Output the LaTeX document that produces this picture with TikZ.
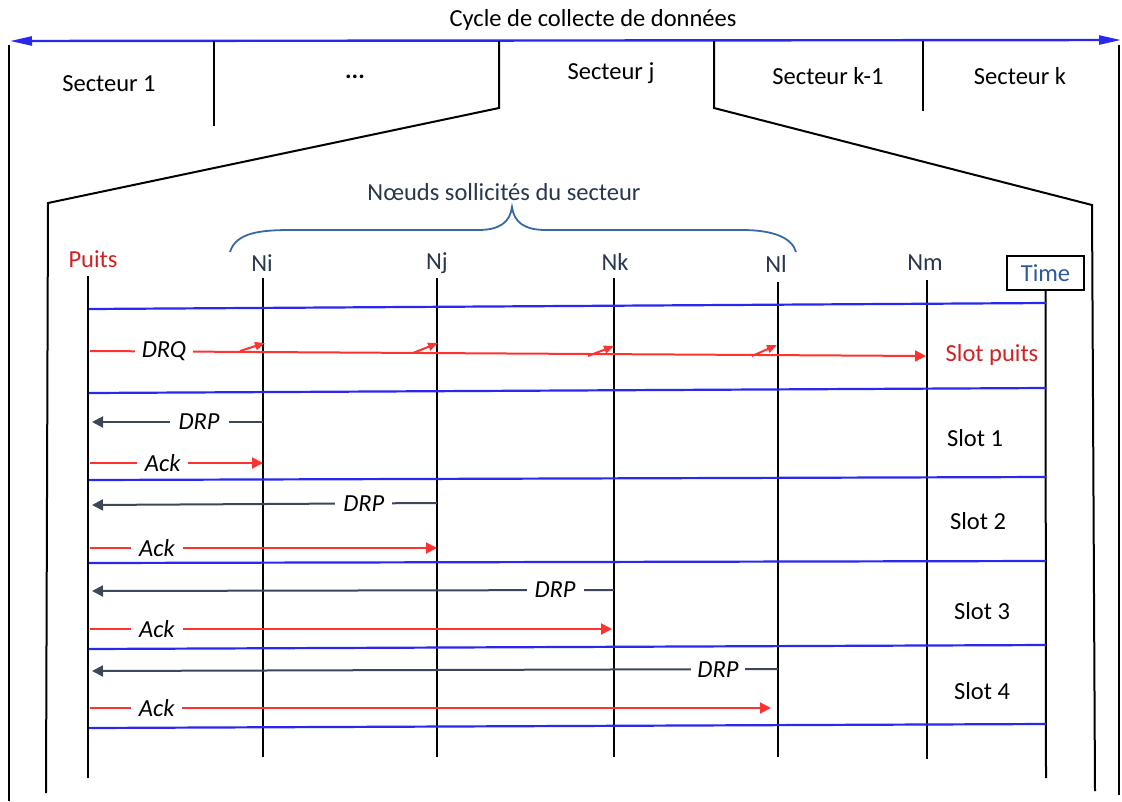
\documentclass[tikz,border=0pt]{standalone}
\usepackage{fontspec}
\setmainfont{Carlito}
\usetikzlibrary{arrows.meta}
\definecolor{lineblue}{RGB}{40,40,240}
\definecolor{msgred}{RGB}{255,50,50}
\definecolor{txtred}{RGB}{210,35,35}
\definecolor{slate}{RGB}{58,72,90}
\definecolor{navy}{RGB}{40,55,78}
\definecolor{braceblue}{RGB}{55,105,165}
\definecolor{timeblue}{RGB}{45,90,155}
\begin{document}
\begin{tikzpicture}[x=1pt,y=-1pt,
  every node/.style={font=\fontsize{24.5}{29}\selectfont, inner sep=0pt},
  frame/.style={black, line width=2pt},
  lifeline/.style={black, line width=2pt},
  slotline/.style={lineblue, line width=2.2pt},
  cycle/.style={lineblue, line width=2.4pt, {Triangle[length=22pt,width=9pt]}-{Triangle[length=22pt,width=9pt]}},
  reqmsg/.style={msgred, line width=2pt, -{Triangle[length=11pt,width=11pt]}},
  repmsg/.style={slate, line width=2pt, -{Triangle[length=11pt,width=11pt]}},
  smallarr/.style={msgred, line width=2pt, -{Triangle[length=10pt,width=8pt]}},
  msglabel/.style={fill=white, inner xsep=8pt, inner ysep=0pt, text=black, font=\fontsize{24.5}{29}\selectfont\itshape},
  nodelabel/.style={text=navy},
  slotlabel/.style={text=black}
]
\useasboundingbox (0,0) rectangle (1122,801);

% ---------- top cycle ----------
\node (title) at (593,20) {Cycle de collecte de données};
\coordinate (cycL) at (10,41);
\coordinate (cycR) at (1121,40);
\draw[cycle] (cycL) -- (cycR);

% outer frame
\coordinate (oL1) at (9,45);   \coordinate (oL2) at (9,801);
\coordinate (oR1) at (1119,45); \coordinate (oR2) at (1119,795);
\draw[frame] (oL1) -- (oL2);
\draw[frame] (oR1) -- (oR2);

% sector dividers
\coordinate (d1t) at (214,41); \coordinate (d1b) at (214,126);
\coordinate (d4t) at (923,41); \coordinate (d4b) at (923,111);
\draw[frame] (d1t) -- (d1b);
\draw[frame] (d4t) -- (d4b);

% zoom of sector j
\coordinate (zLt) at (499,41); \coordinate (zLm) at (499,108);
\coordinate (zLc) at (48,203); \coordinate (zLb) at (46,793);
\coordinate (zRt) at (714,41); \coordinate (zRm) at (714,108);
\coordinate (zRc) at (1092,205); \coordinate (zRb) at (1095,791);
\draw[frame] (zLt) -- (zLm) -- (zLc) -- (zLb);
\draw[frame] (zRt) -- (zRm) -- (zRc) -- (zRb);

% sector labels
\node (sec1) at (109,84) {Secteur 1};
\node (secd) at (355,77) {\textbf{...}};
\node (secj) at (611,73) {Secteur j};
\node (seck1) at (828,76) {Secteur k-1};
\node (seck) at (1020,76) {Secteur k};

% ---------- brace ----------
\node[text=navy] (noeuds) at (504,192) {Nœuds sollicités du secteur};
\coordinate (brL) at (230,252);
\coordinate (brP) at (512,207);
\coordinate (brR) at (796,252);
\draw[braceblue, line width=1.8pt]
  (brL) .. controls (236,232) and (262,230) .. (292,230) -- (478,230)
        .. controls (500,230) and (510,222) .. (brP)
        .. controls (514,222) and (524,230) .. (546,230) -- (742,230)
        .. controls (774,230) and (792,238) .. (brR);

% ---------- lifeline labels ----------
\node[text=txtred] (puits) at (93,259) {Puits};
\node[nodelabel] (ni) at (262,263) {Ni};
\node[nodelabel] (nj) at (437,263) {Nj};
\node[nodelabel] (nk) at (615,262) {Nk};
\node[nodelabel] (nl) at (776,264) {Nl};
\node[nodelabel] (nm) at (925,263) {Nm};
\node[draw=black, line width=1.6pt, minimum width=77pt, minimum height=34pt, text=timeblue] (time) at (1045.5,273) {Time};

% lifelines
\coordinate (Pt) at (88,276);  \coordinate (Pb) at (88,778);
\coordinate (It) at (263,278); \coordinate (Ib) at (263,757);
\coordinate (Jt) at (437,278); \coordinate (Jb) at (437,757);
\coordinate (Kt) at (614,278); \coordinate (Kb) at (614,757);
\coordinate (Lt) at (778,282); \coordinate (Lb) at (778,757);
\coordinate (Mt) at (927,280); \coordinate (Mb) at (927,759);
\coordinate (Tb) at (1046,778);
\draw[lifeline] (Pt) -- (Pb);
\draw[lifeline] (It) -- (Ib);
\draw[lifeline] (Jt) -- (Jb);
\draw[lifeline] (Kt) -- (Kb);
\draw[lifeline] (Lt) -- (Lb);
\draw[lifeline] (Mt) -- (Mb);
\draw[lifeline] (time.south) -- (Tb);

% slot boundaries
\coordinate (b1l) at (89,309); \coordinate (b1r) at (1046,303);
\coordinate (b2l) at (89,393); \coordinate (b2r) at (1046,388);
\coordinate (b3l) at (89,480); \coordinate (b3r) at (1046,477);
\coordinate (b4l) at (89,563); \coordinate (b4r) at (1046,561);
\coordinate (b5l) at (89,649); \coordinate (b5r) at (1046,645);
\coordinate (b6l) at (89,728); \coordinate (b6r) at (1046,724);
\draw[slotline] (b1l) -- (b1r);
\draw[slotline] (b2l) -- (b2r);
\draw[slotline] (b3l) -- (b3r);
\draw[slotline] (b4l) -- (b4r);
\draw[slotline] (b5l) -- (b5r);
\draw[slotline] (b6l) -- (b6r);

% ---------- DRQ ----------
\coordinate (q0) at (90,351);
\coordinate (qM) at (926,356);
\draw[reqmsg] (q0) -- node[msglabel, pos=0.0885, inner xsep=7pt] {DRQ} (qM);
\coordinate (qa1) at (240,351); \coordinate (qI) at (265,343);
\coordinate (qa2) at (413,353); \coordinate (qJ) at (438,343);
\coordinate (qa3) at (588,356); \coordinate (qK) at (614,346);
\coordinate (qa4) at (752,356); \coordinate (qL) at (777,345);
\draw[smallarr] (qa1) -- (qI);
\draw[smallarr] (qa2) -- (qJ);
\draw[smallarr] (qa3) -- (qK);
\draw[smallarr] (qa4) -- (qL);
\node[text=txtred] (slotp) at (992,355) {Slot puits};

% ---------- Slot 1 ----------
\coordinate (r1s) at (263,422); \coordinate (r1e) at (92,422);
\draw[repmsg] (r1s) -- node[msglabel, pos=0.374, inner xsep=9pt] {DRP} (r1e);
\coordinate (a1s) at (90,463); \coordinate (a1e) at (263,463);
\draw[reqmsg] (a1s) -- node[msglabel, pos=0.42, inner xsep=8pt] {Ack} (a1e);
\node[slotlabel] (slot1) at (975,438) {Slot 1};

% ---------- Slot 2 ----------
\coordinate (r2s) at (437,503); \coordinate (r2e) at (92,505);
\draw[repmsg] (r2s) -- node[msglabel, pos=0.212, inner xsep=8pt] {DRP} (r2e);
\coordinate (a2s) at (90,548); \coordinate (a2e) at (437,548);
\draw[reqmsg] (a2s) -- node[msglabel, pos=0.193, inner xsep=8pt] {Ack} (a2e);
\node[slotlabel] (slot2) at (978,521) {Slot 2};

% ---------- Slot 3 ----------
\coordinate (r3s) at (614,590); \coordinate (r3e) at (92,591);
\draw[repmsg] (r3s) -- node[msglabel, pos=0.113, inner xsep=8pt] {DRP} (r3e);
\coordinate (a3s) at (90,629); \coordinate (a3e) at (612,629);
\draw[reqmsg] (a3s) -- node[msglabel, pos=0.128, inner xsep=8pt] {Ack} (a3e);
\node[slotlabel] (slot3) at (982,611) {Slot 3};

% ---------- Slot 4 ----------
\coordinate (r4s) at (778,669); \coordinate (r4e) at (92,671);
\draw[repmsg] (r4s) -- node[msglabel, pos=0.0875, inner xsep=6pt] {DRP} (r4e);
\coordinate (a4s) at (90,708); \coordinate (a4e) at (771,708);
\draw[reqmsg] (a4s) -- node[msglabel, pos=0.098, inner xsep=8pt] {Ack} (a4e);
\node[slotlabel] (slot4) at (982,691) {Slot 4};
\end{tikzpicture}
\end{document}
